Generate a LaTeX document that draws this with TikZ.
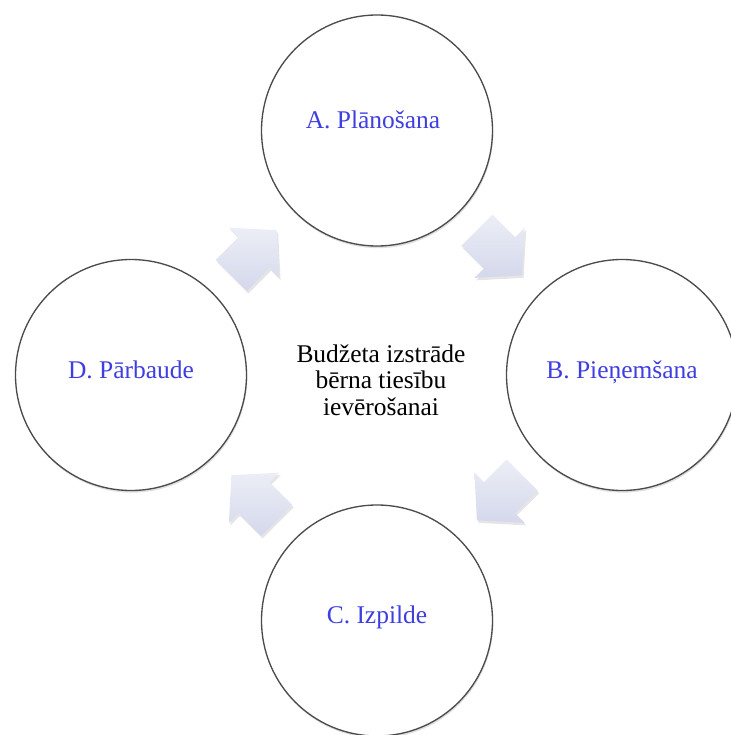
\documentclass[tikz,border=0pt]{standalone}
\usepackage{fontspec}
\setmainfont{Liberation Serif}
\usetikzlibrary{calc,shadows}
\definecolor{ring}{RGB}{75,75,75}
\definecolor{labblue}{RGB}{62,62,225}
\definecolor{arrtop}{RGB}{236,238,246}
\definecolor{arrbot}{RGB}{212,216,235}

\newcommand{\cyclearrow}[3]{%
  \begin{scope}[shift={($(#1)!0.5!(#2)+(1.5,2.5)$)}, rotate=#3]
    \fill[black, opacity=0.10] (-32,-22) -- (0,-22) -- (0,-35.5) -- (32,0) -- (0,35.5) -- (0,22) -- (-32,22) -- cycle;
  \end{scope}
  \begin{scope}[shift={($(#1)!0.5!(#2)$)}, rotate=#3]
    \path[top color=arrtop, bottom color=arrbot] (-32,-22) -- (0,-22) -- (0,-35.5) -- (32,0) -- (0,35.5) -- (0,22) -- (-32,22) -- cycle;
  \end{scope}}

\begin{document}
\begin{tikzpicture}[x=0.75pt,y=-0.75pt,
  stage/.style={circle, draw=ring, line width=1pt, fill=white,
    minimum size=173.25pt, inner sep=0pt,
    drop shadow={shadow xshift=0.6pt, shadow yshift=-1.6pt, opacity=0.25}},
  lab/.style={text=labblue, font=\fontsize{19.1}{23}\selectfont, anchor=base, inner sep=0pt},
  ctr/.style={font=\fontsize{19.1}{20}\selectfont, align=center, inner sep=0pt}]
\useasboundingbox (0,0) rectangle (731,735);

% circle positions (nodes drawn after arrows)
\coordinate (A) at (377,130.5);
\coordinate (B) at (622,375);
\coordinate (C) at (377,620.5);
\coordinate (D) at (131,375);

\cyclearrow{D}{A}{45}
\cyclearrow{A}{B}{-45}
\cyclearrow{B}{C}{-135}
\cyclearrow{C}{D}{135}

\node[stage] (cA) at (A) {};
\node[stage] (cB) at (B) {};
\node[stage] (cC) at (C) {};
\node[stage] (cD) at (D) {};

\node[lab] (tA) at ([shift={(-4,-2.5)}]cA.center) {A. Plānošana};
\node[lab] (tB) at ([shift={(0,3)}]cB.center) {B. Pieņemšana};
\node[lab] (tC) at ([shift={(0,2.5)}]cC.center) {C. Izpilde};
\node[lab] (tD) at ([shift={(0,3)}]cD.center) {D. Pārbaude};

\node[ctr] (title) at (381,380) {Budžeta izstrāde\\bērna tiesību\\ievērošanai};
\end{tikzpicture}
\end{document}
